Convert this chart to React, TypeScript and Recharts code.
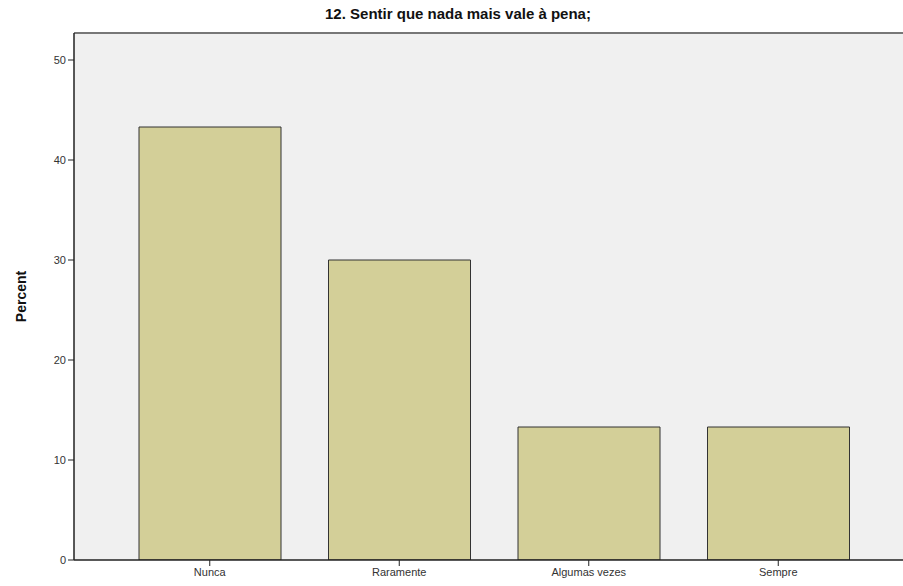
import React from 'react';
import { BarChart, Bar, XAxis, YAxis, CartesianGrid, ReferenceLine, Label } from 'recharts';

const categories = ['Nunca', 'Raramente', 'Algumas vezes', 'Sempre'];
const percents = [43.3, 30.0, 13.3, 13.3];
const yTicks = [0, 10, 20, 30, 40, 50];
const title = '12. Sentir que nada mais vale à pena;';
const yLabel = 'Percent';

const data = categories.map((c, i) => ({ name: c, value: percents[i] }));
const Y_MAX = 52.7;
const FONT = '"Liberation Sans", Arial, sans-serif';

export default function App() {
  return (
    <div style={{ position: 'absolute', left: 0, top: 0, width: 903, height: 586, background: '#fff' }}>
      <div
        style={{
          position: 'absolute',
          left: 0,
          width: 916,
          top: 5,
          textAlign: 'center',
          fontFamily: FONT,
          fontWeight: 'bold',
          fontSize: 15,
          color: '#111',
        }}
      >
        {title}
      </div>
      <BarChart
        width={903}
        height={586}
        data={data}
        margin={{ top: 33, right: 0, bottom: 0, left: 0 }}
        barSize={142}
      >
        <CartesianGrid fill="#f0f0f0" horizontal={false} vertical={false} />
        <XAxis
          dataKey="name"
          height={26}
          padding={{ left: 41, right: 30 }}
          axisLine={{ stroke: '#222', strokeWidth: 1.5 }}
          tickLine={{ stroke: '#222' }}
          tickSize={6}
          tick={{ fill: '#333', fontSize: 11, fontFamily: FONT }}
          interval={0}
        />
        <YAxis
          width={74}
          domain={[0, Y_MAX]}
          ticks={yTicks}
          allowDataOverflow
          axisLine={{ stroke: '#222', strokeWidth: 1.5 }}
          tickLine={{ stroke: '#222' }}
          tickSize={6}
          tick={{ fill: '#333', fontSize: 11, fontFamily: FONT }}
        >
          <Label
            value={yLabel}
            angle={-90}
            position="insideLeft"
            offset={21}
            style={{ fill: '#111', fontWeight: 'bold', fontSize: 14, fontFamily: FONT, textAnchor: 'middle' }}
          />
        </YAxis>
        <ReferenceLine y={Y_MAX} stroke="#777" strokeWidth={2} />
        <Bar dataKey="value" fill="#d3cf98" stroke="#333" strokeWidth={1} isAnimationActive={false} />
      </BarChart>
    </div>
  );
}
